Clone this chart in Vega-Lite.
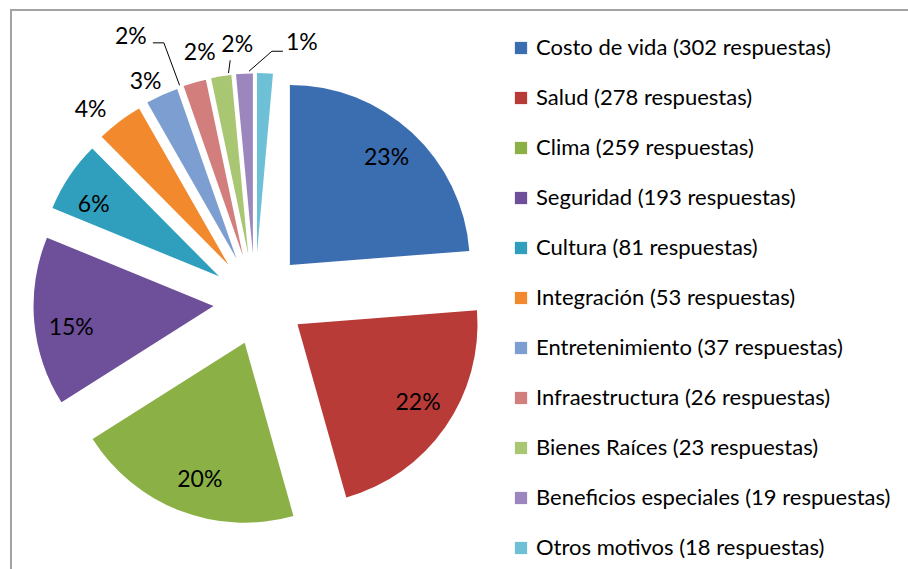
{
  "$schema": "https://vega.github.io/schema/vega-lite/v6.json",
  "width": 900,
  "height": 560,
  "autosize": {"type": "none"},
  "padding": {"left": 11, "top": 10, "right": 0, "bottom": 0},
  "background": "white",
  "config": {
    "view": {"stroke": "#A3A3A3", "strokeWidth": 2},
    "text": {"font": "Lato", "fontSize": 23, "color": "black"}
  },
  "data": {
    "values": [
      {"motivo": "Costo de vida", "leyenda": "Costo de vida (302 respuestas)", "respuestas": 302, "pct": "23%"},
      {"motivo": "Salud", "leyenda": "Salud (278 respuestas)", "respuestas": 278, "pct": "22%"},
      {"motivo": "Clima", "leyenda": "Clima (259 respuestas)", "respuestas": 259, "pct": "20%"},
      {"motivo": "Seguridad", "leyenda": "Seguridad (193 respuestas)", "respuestas": 193, "pct": "15%"},
      {"motivo": "Cultura", "leyenda": "Cultura (81 respuestas)", "respuestas": 81, "pct": "6%"},
      {"motivo": "Integración", "leyenda": "Integración (53 respuestas)", "respuestas": 53, "pct": "4%"},
      {"motivo": "Entretenimiento", "leyenda": "Entretenimiento (37 respuestas)", "respuestas": 37, "pct": "3%"},
      {"motivo": "Infraestructura", "leyenda": "Infraestructura (26 respuestas)", "respuestas": 26, "pct": "2%"},
      {"motivo": "Bienes Raíces", "leyenda": "Bienes Raíces (23 respuestas)", "respuestas": 23, "pct": "2%"},
      {"motivo": "Beneficios especiales", "leyenda": "Beneficios especiales (19 respuestas)", "respuestas": 19, "pct": "2%"},
      {"motivo": "Otros motivos", "leyenda": "Otros motivos (18 respuestas)", "respuestas": 18, "pct": "1%"}
    ]
  },
  "transform": [
    {"window": [{"op": "sum", "field": "respuestas", "as": "cum1"}], "sort": [{"field": "respuestas", "order": "descending"}], "frame": [null, 0]},
    {"joinaggregate": [{"op": "sum", "field": "respuestas", "as": "total"}]},
    {"calculate": "datum.cum1 - datum.respuestas", "as": "cum0"},
    {"calculate": "PI * (datum.cum0 + datum.cum1) / datum.total", "as": "ang"},
    {"calculate": "46 * sin(datum.ang)", "as": "ox"},
    {"calculate": "46 * cos(datum.ang)", "as": "oy"},
    {"calculate": "190 * sin(datum.ang)", "as": "lx"},
    {"calculate": "190 * cos(datum.ang)", "as": "ly"},
    {"calculate": "253 * sin(datum.ang)", "as": "ex"},
    {"calculate": "253 * cos(datum.ang)", "as": "ey"},
    {"calculate": "228 * sin(datum.ang)", "as": "px"},
    {"calculate": "228 * cos(datum.ang)", "as": "py"}
  ],
  "layer": [
    {
      "mark": {"type": "arc", "outerRadius": 180, "innerRadius": 0},
      "encoding": {
        "theta": {"field": "cum0", "type": "quantitative", "stack": null, "scale": {"zero": true, "nice": false}},
        "theta2": {"field": "cum1"},
        "x": {"field": "ox", "type": "quantitative", "stack": null, "scale": {"domain": [-248, 652], "nice": false, "zero": false}, "axis": null},
        "y": {"field": "oy", "type": "quantitative", "stack": null, "scale": {"domain": [-271, 289], "nice": false, "zero": false}, "axis": null},
        "color": {
          "field": "leyenda",
          "type": "nominal",
          "scale": {
            "domain": ["Costo de vida (302 respuestas)", "Salud (278 respuestas)", "Clima (259 respuestas)", "Seguridad (193 respuestas)", "Cultura (81 respuestas)", "Integración (53 respuestas)", "Entretenimiento (37 respuestas)", "Infraestructura (26 respuestas)", "Bienes Raíces (23 respuestas)", "Beneficios especiales (19 respuestas)", "Otros motivos (18 respuestas)"],
            "range": ["#3B6DB1", "#B93B38", "#8AB046", "#6E4F99", "#2F9FBD", "#F2892C", "#7D9ED0", "#D17E7C", "#A9C673", "#9B87BD", "#6DC0D6"]
          },
          "legend": {
            "orient": "none",
            "legendX": 499,
            "legendY": 27,
            "title": null,
            "padding": 0,
            "symbolType": "square",
            "symbolSize": 150,
            "symbolStrokeWidth": 0,
            "labelFont": "Lato",
            "labelFontSize": 22,
            "labelColor": "black",
            "labelLimit": 0,
            "labelOffset": 4,
            "rowPadding": 28
          }
        }
      }
    },
    {
      "transform": [{"filter": "datum.respuestas >= 81"}],
      "mark": {"type": "text", "align": "center", "baseline": "middle"},
      "encoding": {
        "x": {"field": "lx", "type": "quantitative", "stack": null, "scale": {"domain": [-248, 652], "nice": false, "zero": false}, "axis": null},
        "y": {"field": "ly", "type": "quantitative", "stack": null, "scale": {"domain": [-271, 289], "nice": false, "zero": false}, "axis": null},
        "text": {"field": "pct"}
      }
    },
    {
      "transform": [{"filter": "datum.motivo == 'Integración' || datum.motivo == 'Bienes Raíces'"}],
      "mark": {"type": "text", "align": "center", "baseline": "middle"},
      "encoding": {
        "x": {"field": "ex", "type": "quantitative", "stack": null, "scale": {"domain": [-248, 652], "nice": false, "zero": false}, "axis": null},
        "y": {"field": "ey", "type": "quantitative", "stack": null, "scale": {"domain": [-271, 289], "nice": false, "zero": false}, "axis": null},
        "text": {"field": "pct"}
      }
    },
    {
      "transform": [{"filter": "datum.motivo == 'Entretenimiento'"}],
      "mark": {"type": "text", "align": "center", "baseline": "middle", "dx": 10, "dy": 4},
      "encoding": {
        "x": {"field": "ex", "type": "quantitative", "stack": null, "scale": {"domain": [-248, 652], "nice": false, "zero": false}, "axis": null},
        "y": {"field": "ey", "type": "quantitative", "stack": null, "scale": {"domain": [-271, 289], "nice": false, "zero": false}, "axis": null},
        "text": {"field": "pct"}
      }
    },
    {
      "transform": [{"filter": "datum.motivo == 'Infraestructura'"}],
      "mark": {"type": "text", "align": "center", "baseline": "middle", "dx": -40, "dy": -25},
      "encoding": {
        "x": {"field": "ex", "type": "quantitative", "stack": null, "scale": {"domain": [-248, 652], "nice": false, "zero": false}, "axis": null},
        "y": {"field": "ey", "type": "quantitative", "stack": null, "scale": {"domain": [-271, 289], "nice": false, "zero": false}, "axis": null},
        "text": {"field": "pct"}
      }
    },
    {
      "transform": [{"filter": "datum.motivo == 'Beneficios especiales'"}],
      "mark": {"type": "text", "align": "center", "baseline": "middle", "dx": 12, "dy": -3},
      "encoding": {
        "x": {"field": "ex", "type": "quantitative", "stack": null, "scale": {"domain": [-248, 652], "nice": false, "zero": false}, "axis": null},
        "y": {"field": "ey", "type": "quantitative", "stack": null, "scale": {"domain": [-271, 289], "nice": false, "zero": false}, "axis": null},
        "text": {"field": "pct"}
      }
    },
    {
      "transform": [{"filter": "datum.motivo == 'Otros motivos'"}],
      "mark": {"type": "text", "align": "center", "baseline": "middle", "dx": 54, "dy": -3},
      "encoding": {
        "x": {"field": "ex", "type": "quantitative", "stack": null, "scale": {"domain": [-248, 652], "nice": false, "zero": false}, "axis": null},
        "y": {"field": "ey", "type": "quantitative", "stack": null, "scale": {"domain": [-271, 289], "nice": false, "zero": false}, "axis": null},
        "text": {"field": "pct"}
      }
    },
    {
      "transform": [{"filter": "datum.motivo == 'Infraestructura'"}],
      "mark": {"type": "rule", "color": "black", "strokeWidth": 1, "x2Offset": -7, "y2Offset": -19},
      "encoding": {
        "x": {"field": "px", "type": "quantitative", "stack": null, "scale": {"domain": [-248, 652], "nice": false, "zero": false}, "axis": null},
        "y": {"field": "py", "type": "quantitative", "stack": null, "scale": {"domain": [-271, 289], "nice": false, "zero": false}, "axis": null},
        "x2": {"field": "ex"},
        "y2": {"field": "ey"}
      }
    },
    {
      "transform": [{"filter": "datum.motivo == 'Infraestructura'"}],
      "mark": {"type": "rule", "color": "black", "strokeWidth": 1, "xOffset": -18, "yOffset": -19, "x2Offset": -7, "y2Offset": -19},
      "encoding": {
        "x": {"field": "ex", "type": "quantitative", "stack": null, "scale": {"domain": [-248, 652], "nice": false, "zero": false}, "axis": null},
        "y": {"field": "ey", "type": "quantitative", "stack": null, "scale": {"domain": [-271, 289], "nice": false, "zero": false}, "axis": null},
        "x2": {"field": "ex"},
        "y2": {"field": "ey"}
      }
    },
    {
      "transform": [{"filter": "datum.motivo == 'Beneficios especiales'"}],
      "mark": {"type": "rule", "color": "black", "strokeWidth": 1, "x2Offset": 5, "y2Offset": 12},
      "encoding": {
        "x": {"field": "px", "type": "quantitative", "stack": null, "scale": {"domain": [-248, 652], "nice": false, "zero": false}, "axis": null},
        "y": {"field": "py", "type": "quantitative", "stack": null, "scale": {"domain": [-271, 289], "nice": false, "zero": false}, "axis": null},
        "x2": {"field": "ex"},
        "y2": {"field": "ey"}
      }
    },
    {
      "transform": [{"filter": "datum.motivo == 'Otros motivos'"}],
      "mark": {"type": "rule", "color": "black", "strokeWidth": 1, "x2Offset": 24, "y2Offset": 5},
      "encoding": {
        "x": {"field": "px", "type": "quantitative", "stack": null, "scale": {"domain": [-248, 652], "nice": false, "zero": false}, "axis": null},
        "y": {"field": "py", "type": "quantitative", "stack": null, "scale": {"domain": [-271, 289], "nice": false, "zero": false}, "axis": null},
        "x2": {"field": "ex"},
        "y2": {"field": "ey"}
      }
    },
    {
      "transform": [{"filter": "datum.motivo == 'Otros motivos'"}],
      "mark": {"type": "rule", "color": "black", "strokeWidth": 1, "xOffset": 24, "yOffset": 5, "x2Offset": 35, "y2Offset": 5},
      "encoding": {
        "x": {"field": "ex", "type": "quantitative", "stack": null, "scale": {"domain": [-248, 652], "nice": false, "zero": false}, "axis": null},
        "y": {"field": "ey", "type": "quantitative", "stack": null, "scale": {"domain": [-271, 289], "nice": false, "zero": false}, "axis": null},
        "x2": {"field": "ex"},
        "y2": {"field": "ey"}
      }
    }
  ]
}
